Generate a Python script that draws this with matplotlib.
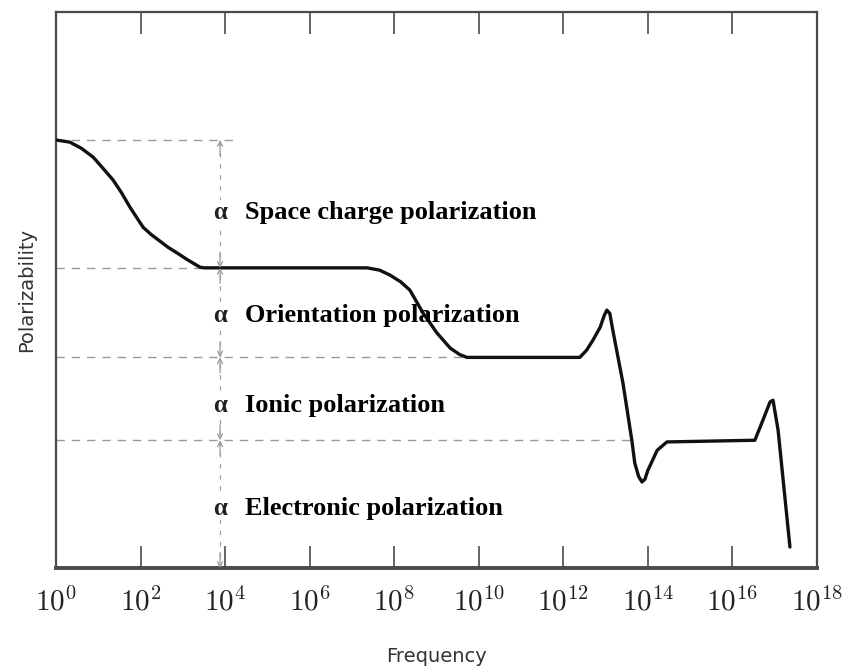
#!/usr/bin/env python3
"""
Polarizability vs. frequency sketch: space charge, orientation, ionic and
electronic contributions.

Outputs:
    out.png
"""

import matplotlib.pyplot as plt

plt.rcParams["mathtext.fontset"] = "cm"

# curve: x is log10(frequency), y is arbitrary units
LOG_FREQ = [
    0.0, 0.33, 0.60, 0.88, 1.10, 1.35, 1.55, 1.75, 2.06, 2.25, 2.46, 2.65,
    2.86, 3.10, 3.41, 3.52,
    7.36, 7.65, 7.90, 8.15, 8.37, 8.68, 9.01, 9.32, 9.55, 9.72,
    12.39, 12.55, 12.70, 12.87, 12.97, 13.03, 13.10, 13.17, 13.41, 13.62,
    13.69, 13.78, 13.86, 13.93, 14.00, 14.22, 14.45,
    16.53, 16.72, 16.89, 16.96, 17.08, 17.36,
]
POLARIZABILITY = [
    7.70, 7.66, 7.55, 7.39, 7.20, 6.98, 6.75, 6.49, 6.13, 6.00, 5.88, 5.77,
    5.67, 5.55, 5.41, 5.40,
    5.40, 5.36, 5.27, 5.15, 5.00, 4.59, 4.23, 3.96, 3.84, 3.79,
    3.79, 3.92, 4.10, 4.33, 4.55, 4.64, 4.58, 4.28, 3.33, 2.30,
    1.89, 1.65, 1.55, 1.60, 1.76, 2.12, 2.27,
    2.30, 2.66, 2.99, 3.02, 2.48, 0.38,
]

# plateau levels and where their dashed guide lines stop
LEVELS = [7.70, 5.40, 3.79, 2.30]
LEVEL_ENDS = [4.2, 3.5, 9.7, 13.6]

MECHANISMS = [
    "Space charge polarization",
    "Orientation polarization",
    "Ionic polarization",
    "Electronic polarization",
]
MECHANISM_Y = [6.40, 4.55, 2.93, 1.08]

TICK_EXPONENTS = [0, 2, 4, 6, 8, 10, 12, 14, 16, 18]

MARKER_X = 3.88
Y_BOTTOM = 0.0
Y_TOP = 10.0

SPINE_COLOR = "#4a4a4a"
GUIDE_COLOR = "#9a9a9a"


def draw_range_arrows(ax, low, high):
    size = 0.28
    style = dict(arrowstyle="->", color=GUIDE_COLOR, lw=0.9, shrinkA=0, shrinkB=0,
                 mutation_scale=9)
    ax.annotate("", xy=(MARKER_X, high), xytext=(MARKER_X, high - size),
                arrowprops=style)
    ax.annotate("", xy=(MARKER_X, low), xytext=(MARKER_X, low + size),
                arrowprops=style)


def main():
    fig = plt.figure(figsize=(8.63, 6.70), dpi=100)
    ax = fig.add_axes([0.0649, 0.152, 0.8818, 0.830])

    ax.plot(LOG_FREQ, POLARIZABILITY, color="#111111", lw=2.4,
            solid_joinstyle="round", solid_capstyle="round", zorder=3)

    for level, end in zip(LEVELS, LEVEL_ENDS):
        ax.plot([0, end], [level, level], color=GUIDE_COLOR, lw=1.0,
                ls=(0, (6, 5)), zorder=1)

    ax.plot([MARKER_X, MARKER_X], [Y_BOTTOM, LEVELS[0]], color=GUIDE_COLOR,
            lw=0.8, ls=(0, (4, 6)), zorder=1)

    bounds = LEVELS + [Y_BOTTOM]
    for high, low in zip(bounds[:-1], bounds[1:]):
        draw_range_arrows(ax, low, high)

    for label, y in zip(MECHANISMS, MECHANISM_Y):
        ax.text(MARKER_X, y, "α", ha="center", va="center", fontsize=18,
                fontweight="bold", family="Liberation Serif", color="#222222",
                bbox=dict(facecolor="white", edgecolor="none", pad=0.5))
        ax.text(4.47, y, label, ha="left", va="center", fontsize=19,
                fontweight="bold", family="Liberation Serif", color="black")

    ax.set_xlim(0, 18)
    ax.set_ylim(Y_BOTTOM, Y_TOP)
    ax.set_xticks(TICK_EXPONENTS)
    ax.set_xticklabels([rf"$10^{{{k}}}$" for k in TICK_EXPONENTS], fontsize=21,
                       color="#222222")
    ax.set_yticks([])
    ax.tick_params(axis="x", direction="in", length=16, width=1.2,
                   color=SPINE_COLOR, top=True, pad=14)

    for side, spine in ax.spines.items():
        spine.set_color(SPINE_COLOR)
        spine.set_linewidth(2.8 if side == "bottom" else 1.6)

    ax.set_xlabel("Frequency", fontsize=14, color="#333333", labelpad=22)
    ax.set_ylabel("Polarizability", fontsize=14, color="#333333", labelpad=14)

    fig.savefig("out.png", dpi=100)
    plt.close(fig)


if __name__ == "__main__":
    main()
